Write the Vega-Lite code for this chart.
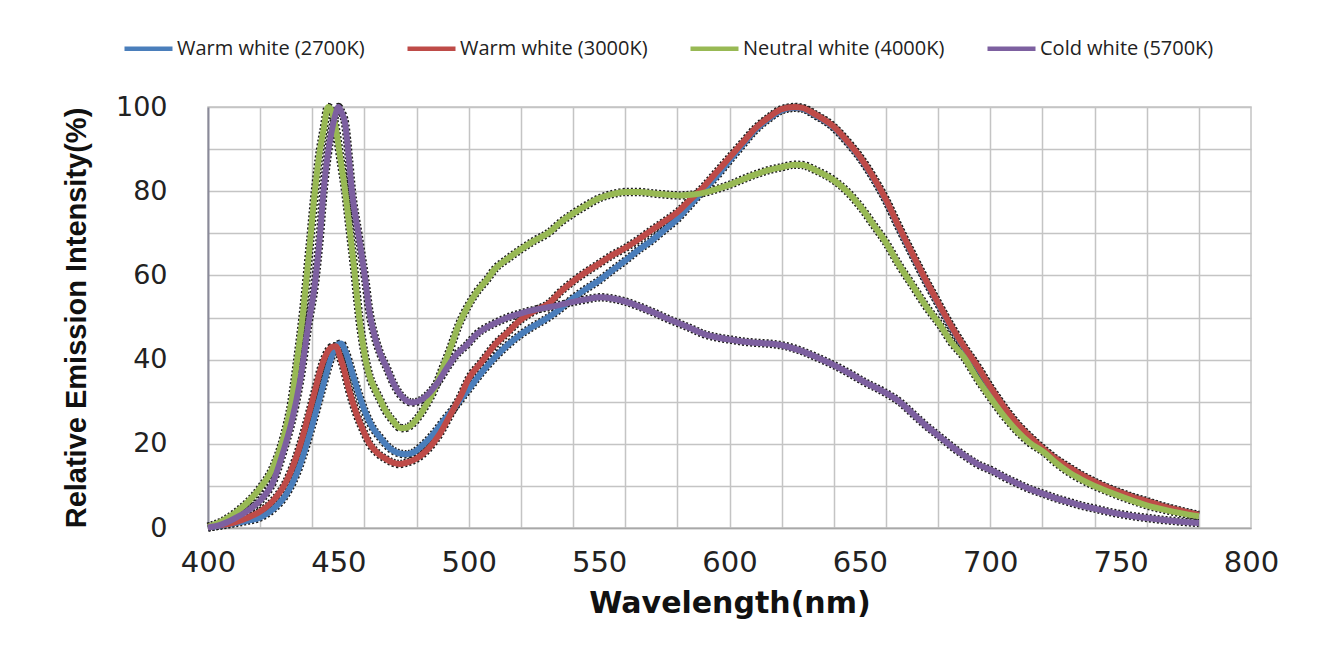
{
  "$schema": "https://vega.github.io/schema/vega-lite/v6.json",
  "width": 1043,
  "height": 421,
  "autosize": {"type": "none"},
  "padding": {"left": 208, "top": 107, "right": 73, "bottom": 126},
  "background": "white",
  "config": {
    "view": {"stroke": "#c4c4c4", "strokeWidth": 1.5},
    "legend": {
      "orient": "none", "legendX": -86, "legendY": -85, "direction": "horizontal", "columns": 4,
      "symbolType": "stroke", "symbolSize": 2304, "symbolStrokeWidth": 4.5,
      "labelFont": "Open Sans", "labelFontSize": 20, "labelColor": "#222", "labelOffset": 2,
      "columnPadding": 33, "padding": 0, "labelLimit": 400
    }
  },
  "datasets": {
    "spectra": [
      {"series": "Warm white (2700K)", "wl": 400, "val": 0.2}, {"series": "Warm white (2700K)", "wl": 405, "val": 0.6}, {"series": "Warm white (2700K)", "wl": 410, "val": 1.1}, {"series": "Warm white (2700K)", "wl": 415, "val": 1.7}, {"series": "Warm white (2700K)", "wl": 420, "val": 2.5}, {"series": "Warm white (2700K)", "wl": 425, "val": 4.5}, {"series": "Warm white (2700K)", "wl": 430, "val": 8}, {"series": "Warm white (2700K)", "wl": 435, "val": 14.5}, {"series": "Warm white (2700K)", "wl": 440, "val": 24.5}, {"series": "Warm white (2700K)", "wl": 444, "val": 33.5}, {"series": "Warm white (2700K)", "wl": 447, "val": 40}, {"series": "Warm white (2700K)", "wl": 449, "val": 43}, {"series": "Warm white (2700K)", "wl": 451, "val": 43.8}, {"series": "Warm white (2700K)", "wl": 453, "val": 41.5}, {"series": "Warm white (2700K)", "wl": 455, "val": 37.5}, {"series": "Warm white (2700K)", "wl": 457.5, "val": 32.5}, {"series": "Warm white (2700K)", "wl": 460, "val": 28}, {"series": "Warm white (2700K)", "wl": 463, "val": 24}, {"series": "Warm white (2700K)", "wl": 466, "val": 21.5}, {"series": "Warm white (2700K)", "wl": 470, "val": 18.8}, {"series": "Warm white (2700K)", "wl": 473, "val": 17.8}, {"series": "Warm white (2700K)", "wl": 476, "val": 17.5}, {"series": "Warm white (2700K)", "wl": 479, "val": 18}, {"series": "Warm white (2700K)", "wl": 482, "val": 19.5}, {"series": "Warm white (2700K)", "wl": 486, "val": 22}, {"series": "Warm white (2700K)", "wl": 490, "val": 25.2}, {"series": "Warm white (2700K)", "wl": 495, "val": 29}, {"series": "Warm white (2700K)", "wl": 500, "val": 33}, {"series": "Warm white (2700K)", "wl": 505, "val": 37}, {"series": "Warm white (2700K)", "wl": 510, "val": 40.5}, {"series": "Warm white (2700K)", "wl": 515, "val": 43.5}, {"series": "Warm white (2700K)", "wl": 520, "val": 46}, {"series": "Warm white (2700K)", "wl": 525, "val": 48}, {"series": "Warm white (2700K)", "wl": 530, "val": 49.8}, {"series": "Warm white (2700K)", "wl": 535, "val": 52}, {"series": "Warm white (2700K)", "wl": 540, "val": 54.6}, {"series": "Warm white (2700K)", "wl": 545, "val": 56.8}, {"series": "Warm white (2700K)", "wl": 550, "val": 58.8}, {"series": "Warm white (2700K)", "wl": 555, "val": 61.2}, {"series": "Warm white (2700K)", "wl": 560, "val": 63.5}, {"series": "Warm white (2700K)", "wl": 565, "val": 66}, {"series": "Warm white (2700K)", "wl": 570, "val": 68.2}, {"series": "Warm white (2700K)", "wl": 575, "val": 70.8}, {"series": "Warm white (2700K)", "wl": 580, "val": 73.4}, {"series": "Warm white (2700K)", "wl": 585, "val": 76.8}, {"series": "Warm white (2700K)", "wl": 590, "val": 80.2}, {"series": "Warm white (2700K)", "wl": 595, "val": 83.5}, {"series": "Warm white (2700K)", "wl": 600, "val": 87.3}, {"series": "Warm white (2700K)", "wl": 605, "val": 91}, {"series": "Warm white (2700K)", "wl": 610, "val": 94.6}, {"series": "Warm white (2700K)", "wl": 615, "val": 97.2}, {"series": "Warm white (2700K)", "wl": 620, "val": 99.2}, {"series": "Warm white (2700K)", "wl": 625, "val": 99.8}, {"series": "Warm white (2700K)", "wl": 628, "val": 99.6}, {"series": "Warm white (2700K)", "wl": 633, "val": 98}, {"series": "Warm white (2700K)", "wl": 640, "val": 95.1}, {"series": "Warm white (2700K)", "wl": 645, "val": 91.8}, {"series": "Warm white (2700K)", "wl": 650, "val": 88}, {"series": "Warm white (2700K)", "wl": 655, "val": 83.3}, {"series": "Warm white (2700K)", "wl": 660, "val": 77.8}, {"series": "Warm white (2700K)", "wl": 665, "val": 71.3}, {"series": "Warm white (2700K)", "wl": 670, "val": 65.1}, {"series": "Warm white (2700K)", "wl": 675, "val": 59}, {"series": "Warm white (2700K)", "wl": 680, "val": 53.3}, {"series": "Warm white (2700K)", "wl": 685, "val": 47.8}, {"series": "Warm white (2700K)", "wl": 690, "val": 42.8}, {"series": "Warm white (2700K)", "wl": 695, "val": 38.3}, {"series": "Warm white (2700K)", "wl": 700, "val": 33.3}, {"series": "Warm white (2700K)", "wl": 705, "val": 28.8}, {"series": "Warm white (2700K)", "wl": 710, "val": 24.8}, {"series": "Warm white (2700K)", "wl": 715, "val": 21.6}, {"series": "Warm white (2700K)", "wl": 720, "val": 18.8}, {"series": "Warm white (2700K)", "wl": 725, "val": 16.3}, {"series": "Warm white (2700K)", "wl": 730, "val": 14.3}, {"series": "Warm white (2700K)", "wl": 735, "val": 12.4}, {"series": "Warm white (2700K)", "wl": 740, "val": 10.8}, {"series": "Warm white (2700K)", "wl": 745, "val": 9.4}, {"series": "Warm white (2700K)", "wl": 750, "val": 8.2}, {"series": "Warm white (2700K)", "wl": 755, "val": 7.1}, {"series": "Warm white (2700K)", "wl": 760, "val": 6.2}, {"series": "Warm white (2700K)", "wl": 765, "val": 5.2}, {"series": "Warm white (2700K)", "wl": 770, "val": 4.4}, {"series": "Warm white (2700K)", "wl": 775, "val": 3.6}, {"series": "Warm white (2700K)", "wl": 780, "val": 2.9},

      {"series": "Warm white (3000K)", "wl": 400, "val": 0.3}, {"series": "Warm white (3000K)", "wl": 405, "val": 0.7}, {"series": "Warm white (3000K)", "wl": 410, "val": 1.3}, {"series": "Warm white (3000K)", "wl": 415, "val": 2.4}, {"series": "Warm white (3000K)", "wl": 420, "val": 3.9}, {"series": "Warm white (3000K)", "wl": 425, "val": 6.5}, {"series": "Warm white (3000K)", "wl": 430, "val": 11}, {"series": "Warm white (3000K)", "wl": 435, "val": 19}, {"series": "Warm white (3000K)", "wl": 438, "val": 25.5}, {"series": "Warm white (3000K)", "wl": 441, "val": 32.5}, {"series": "Warm white (3000K)", "wl": 443, "val": 37.3}, {"series": "Warm white (3000K)", "wl": 445, "val": 40.8}, {"series": "Warm white (3000K)", "wl": 447.5, "val": 43}, {"series": "Warm white (3000K)", "wl": 449, "val": 43.2}, {"series": "Warm white (3000K)", "wl": 451, "val": 40}, {"series": "Warm white (3000K)", "wl": 452, "val": 38}, {"series": "Warm white (3000K)", "wl": 454, "val": 33}, {"series": "Warm white (3000K)", "wl": 457, "val": 27}, {"series": "Warm white (3000K)", "wl": 460, "val": 22.5}, {"series": "Warm white (3000K)", "wl": 462, "val": 20}, {"series": "Warm white (3000K)", "wl": 465, "val": 17.8}, {"series": "Warm white (3000K)", "wl": 468.5, "val": 16.3}, {"series": "Warm white (3000K)", "wl": 471, "val": 15.5}, {"series": "Warm white (3000K)", "wl": 473.5, "val": 15.2}, {"series": "Warm white (3000K)", "wl": 476, "val": 15.5}, {"series": "Warm white (3000K)", "wl": 480, "val": 16.5}, {"series": "Warm white (3000K)", "wl": 484, "val": 18.5}, {"series": "Warm white (3000K)", "wl": 489, "val": 22.5}, {"series": "Warm white (3000K)", "wl": 493, "val": 27}, {"series": "Warm white (3000K)", "wl": 497, "val": 31.5}, {"series": "Warm white (3000K)", "wl": 500, "val": 35.5}, {"series": "Warm white (3000K)", "wl": 505, "val": 39.5}, {"series": "Warm white (3000K)", "wl": 510, "val": 43.5}, {"series": "Warm white (3000K)", "wl": 515, "val": 46.5}, {"series": "Warm white (3000K)", "wl": 520, "val": 49.5}, {"series": "Warm white (3000K)", "wl": 525, "val": 51.5}, {"series": "Warm white (3000K)", "wl": 531, "val": 53.5}, {"series": "Warm white (3000K)", "wl": 535, "val": 56}, {"series": "Warm white (3000K)", "wl": 540, "val": 58.6}, {"series": "Warm white (3000K)", "wl": 545, "val": 60.8}, {"series": "Warm white (3000K)", "wl": 550, "val": 62.8}, {"series": "Warm white (3000K)", "wl": 555, "val": 64.8}, {"series": "Warm white (3000K)", "wl": 560, "val": 66.5}, {"series": "Warm white (3000K)", "wl": 565, "val": 68.5}, {"series": "Warm white (3000K)", "wl": 570, "val": 70.7}, {"series": "Warm white (3000K)", "wl": 575, "val": 72.8}, {"series": "Warm white (3000K)", "wl": 580, "val": 75}, {"series": "Warm white (3000K)", "wl": 585, "val": 78}, {"series": "Warm white (3000K)", "wl": 590, "val": 81}, {"series": "Warm white (3000K)", "wl": 595, "val": 84.5}, {"series": "Warm white (3000K)", "wl": 600, "val": 88}, {"series": "Warm white (3000K)", "wl": 605, "val": 91.5}, {"series": "Warm white (3000K)", "wl": 610, "val": 95}, {"series": "Warm white (3000K)", "wl": 615, "val": 97.5}, {"series": "Warm white (3000K)", "wl": 620, "val": 99.5}, {"series": "Warm white (3000K)", "wl": 625, "val": 100}, {"series": "Warm white (3000K)", "wl": 628, "val": 99.8}, {"series": "Warm white (3000K)", "wl": 633, "val": 98.2}, {"series": "Warm white (3000K)", "wl": 640, "val": 95.3}, {"series": "Warm white (3000K)", "wl": 645, "val": 92}, {"series": "Warm white (3000K)", "wl": 650, "val": 88.2}, {"series": "Warm white (3000K)", "wl": 655, "val": 83.5}, {"series": "Warm white (3000K)", "wl": 660, "val": 78}, {"series": "Warm white (3000K)", "wl": 665, "val": 71.5}, {"series": "Warm white (3000K)", "wl": 670, "val": 65.3}, {"series": "Warm white (3000K)", "wl": 675, "val": 59.2}, {"series": "Warm white (3000K)", "wl": 680, "val": 53.5}, {"series": "Warm white (3000K)", "wl": 685, "val": 48}, {"series": "Warm white (3000K)", "wl": 690, "val": 43}, {"series": "Warm white (3000K)", "wl": 695, "val": 38.5}, {"series": "Warm white (3000K)", "wl": 700, "val": 33.5}, {"series": "Warm white (3000K)", "wl": 705, "val": 29}, {"series": "Warm white (3000K)", "wl": 710, "val": 25}, {"series": "Warm white (3000K)", "wl": 715, "val": 21.8}, {"series": "Warm white (3000K)", "wl": 720, "val": 19}, {"series": "Warm white (3000K)", "wl": 725, "val": 16.5}, {"series": "Warm white (3000K)", "wl": 730, "val": 14.5}, {"series": "Warm white (3000K)", "wl": 735, "val": 12.6}, {"series": "Warm white (3000K)", "wl": 740, "val": 11}, {"series": "Warm white (3000K)", "wl": 745, "val": 9.6}, {"series": "Warm white (3000K)", "wl": 750, "val": 8.4}, {"series": "Warm white (3000K)", "wl": 755, "val": 7.3}, {"series": "Warm white (3000K)", "wl": 760, "val": 6.4}, {"series": "Warm white (3000K)", "wl": 765, "val": 5.4}, {"series": "Warm white (3000K)", "wl": 770, "val": 4.6}, {"series": "Warm white (3000K)", "wl": 775, "val": 3.8}, {"series": "Warm white (3000K)", "wl": 780, "val": 3.1},

      {"series": "Neutral white (4000K)", "wl": 400, "val": 0.3}, {"series": "Neutral white (4000K)", "wl": 405, "val": 1.5}, {"series": "Neutral white (4000K)", "wl": 410, "val": 3.4}, {"series": "Neutral white (4000K)", "wl": 415, "val": 6}, {"series": "Neutral white (4000K)", "wl": 420, "val": 9.5}, {"series": "Neutral white (4000K)", "wl": 425, "val": 14.5}, {"series": "Neutral white (4000K)", "wl": 429, "val": 21.6}, {"series": "Neutral white (4000K)", "wl": 432, "val": 30}, {"series": "Neutral white (4000K)", "wl": 434, "val": 38.9}, {"series": "Neutral white (4000K)", "wl": 436.6, "val": 52}, {"series": "Neutral white (4000K)", "wl": 439, "val": 67}, {"series": "Neutral white (4000K)", "wl": 441, "val": 80}, {"series": "Neutral white (4000K)", "wl": 443, "val": 90}, {"series": "Neutral white (4000K)", "wl": 444.3, "val": 94.5}, {"series": "Neutral white (4000K)", "wl": 446, "val": 100}, {"series": "Neutral white (4000K)", "wl": 447.5, "val": 99}, {"series": "Neutral white (4000K)", "wl": 449, "val": 95}, {"series": "Neutral white (4000K)", "wl": 450.7, "val": 88}, {"series": "Neutral white (4000K)", "wl": 452.6, "val": 80}, {"series": "Neutral white (4000K)", "wl": 454.5, "val": 70}, {"series": "Neutral white (4000K)", "wl": 456, "val": 62}, {"series": "Neutral white (4000K)", "wl": 458, "val": 50}, {"series": "Neutral white (4000K)", "wl": 460, "val": 41.5}, {"series": "Neutral white (4000K)", "wl": 462, "val": 36}, {"series": "Neutral white (4000K)", "wl": 464, "val": 33}, {"series": "Neutral white (4000K)", "wl": 466, "val": 30.5}, {"series": "Neutral white (4000K)", "wl": 468, "val": 28}, {"series": "Neutral white (4000K)", "wl": 471, "val": 25.4}, {"series": "Neutral white (4000K)", "wl": 474, "val": 23.7}, {"series": "Neutral white (4000K)", "wl": 476, "val": 23.8}, {"series": "Neutral white (4000K)", "wl": 478, "val": 24.5}, {"series": "Neutral white (4000K)", "wl": 480, "val": 25.8}, {"series": "Neutral white (4000K)", "wl": 483, "val": 28.5}, {"series": "Neutral white (4000K)", "wl": 486.5, "val": 32.5}, {"series": "Neutral white (4000K)", "wl": 490, "val": 38}, {"series": "Neutral white (4000K)", "wl": 493, "val": 42.8}, {"series": "Neutral white (4000K)", "wl": 496, "val": 48}, {"series": "Neutral white (4000K)", "wl": 499.5, "val": 52.5}, {"series": "Neutral white (4000K)", "wl": 503, "val": 56}, {"series": "Neutral white (4000K)", "wl": 507, "val": 59}, {"series": "Neutral white (4000K)", "wl": 510, "val": 61.5}, {"series": "Neutral white (4000K)", "wl": 515, "val": 64}, {"series": "Neutral white (4000K)", "wl": 520, "val": 66.2}, {"series": "Neutral white (4000K)", "wl": 525, "val": 68.2}, {"series": "Neutral white (4000K)", "wl": 531, "val": 70.3}, {"series": "Neutral white (4000K)", "wl": 535, "val": 72.5}, {"series": "Neutral white (4000K)", "wl": 540, "val": 74.7}, {"series": "Neutral white (4000K)", "wl": 545, "val": 76.6}, {"series": "Neutral white (4000K)", "wl": 550, "val": 78.3}, {"series": "Neutral white (4000K)", "wl": 555, "val": 79.3}, {"series": "Neutral white (4000K)", "wl": 560, "val": 79.8}, {"series": "Neutral white (4000K)", "wl": 565, "val": 79.8}, {"series": "Neutral white (4000K)", "wl": 572, "val": 79.4}, {"series": "Neutral white (4000K)", "wl": 581, "val": 79}, {"series": "Neutral white (4000K)", "wl": 586, "val": 79.2}, {"series": "Neutral white (4000K)", "wl": 590, "val": 79.6}, {"series": "Neutral white (4000K)", "wl": 595, "val": 80.5}, {"series": "Neutral white (4000K)", "wl": 600, "val": 81.5}, {"series": "Neutral white (4000K)", "wl": 605, "val": 82.8}, {"series": "Neutral white (4000K)", "wl": 610, "val": 84}, {"series": "Neutral white (4000K)", "wl": 615, "val": 85}, {"series": "Neutral white (4000K)", "wl": 620, "val": 85.7}, {"series": "Neutral white (4000K)", "wl": 625, "val": 86.3}, {"series": "Neutral white (4000K)", "wl": 628, "val": 86.2}, {"series": "Neutral white (4000K)", "wl": 633, "val": 85}, {"series": "Neutral white (4000K)", "wl": 640, "val": 82.6}, {"series": "Neutral white (4000K)", "wl": 645, "val": 80}, {"series": "Neutral white (4000K)", "wl": 650, "val": 76.5}, {"series": "Neutral white (4000K)", "wl": 655, "val": 72.2}, {"series": "Neutral white (4000K)", "wl": 660, "val": 67.8}, {"series": "Neutral white (4000K)", "wl": 665, "val": 62.5}, {"series": "Neutral white (4000K)", "wl": 670, "val": 57.8}, {"series": "Neutral white (4000K)", "wl": 675, "val": 53}, {"series": "Neutral white (4000K)", "wl": 681, "val": 48}, {"series": "Neutral white (4000K)", "wl": 685, "val": 44.2}, {"series": "Neutral white (4000K)", "wl": 690, "val": 40.5}, {"series": "Neutral white (4000K)", "wl": 695, "val": 35.5}, {"series": "Neutral white (4000K)", "wl": 700, "val": 31}, {"series": "Neutral white (4000K)", "wl": 705, "val": 26.8}, {"series": "Neutral white (4000K)", "wl": 710, "val": 23.2}, {"series": "Neutral white (4000K)", "wl": 715, "val": 20.3}, {"series": "Neutral white (4000K)", "wl": 721, "val": 17.8}, {"series": "Neutral white (4000K)", "wl": 725, "val": 15.6}, {"series": "Neutral white (4000K)", "wl": 730, "val": 13.3}, {"series": "Neutral white (4000K)", "wl": 735, "val": 11.5}, {"series": "Neutral white (4000K)", "wl": 740, "val": 10}, {"series": "Neutral white (4000K)", "wl": 745, "val": 8.7}, {"series": "Neutral white (4000K)", "wl": 750, "val": 7.5}, {"series": "Neutral white (4000K)", "wl": 755, "val": 6.4}, {"series": "Neutral white (4000K)", "wl": 760, "val": 5.4}, {"series": "Neutral white (4000K)", "wl": 765, "val": 4.6}, {"series": "Neutral white (4000K)", "wl": 770, "val": 3.9}, {"series": "Neutral white (4000K)", "wl": 775, "val": 3.3}, {"series": "Neutral white (4000K)", "wl": 780, "val": 2.8},

      {"series": "Cold white (5700K)", "wl": 400, "val": 0.1}, {"series": "Cold white (5700K)", "wl": 405, "val": 0.8}, {"series": "Cold white (5700K)", "wl": 410, "val": 2.2}, {"series": "Cold white (5700K)", "wl": 415, "val": 4}, {"series": "Cold white (5700K)", "wl": 420, "val": 6.5}, {"series": "Cold white (5700K)", "wl": 425, "val": 11}, {"series": "Cold white (5700K)", "wl": 429, "val": 18.4}, {"series": "Cold white (5700K)", "wl": 432, "val": 25}, {"series": "Cold white (5700K)", "wl": 435.3, "val": 34.9}, {"series": "Cold white (5700K)", "wl": 438.5, "val": 48.4}, {"series": "Cold white (5700K)", "wl": 441, "val": 58}, {"series": "Cold white (5700K)", "wl": 443, "val": 70}, {"series": "Cold white (5700K)", "wl": 444.3, "val": 80}, {"series": "Cold white (5700K)", "wl": 446, "val": 89}, {"series": "Cold white (5700K)", "wl": 447.5, "val": 94.5}, {"series": "Cold white (5700K)", "wl": 449, "val": 98.5}, {"series": "Cold white (5700K)", "wl": 450, "val": 100}, {"series": "Cold white (5700K)", "wl": 451, "val": 99}, {"series": "Cold white (5700K)", "wl": 452.6, "val": 96}, {"series": "Cold white (5700K)", "wl": 454, "val": 88}, {"series": "Cold white (5700K)", "wl": 455.2, "val": 80}, {"series": "Cold white (5700K)", "wl": 457.7, "val": 69.8}, {"series": "Cold white (5700K)", "wl": 460.3, "val": 59}, {"series": "Cold white (5700K)", "wl": 462, "val": 51}, {"series": "Cold white (5700K)", "wl": 463.4, "val": 46.8}, {"series": "Cold white (5700K)", "wl": 466, "val": 41.5}, {"series": "Cold white (5700K)", "wl": 468.6, "val": 38}, {"series": "Cold white (5700K)", "wl": 471, "val": 34.5}, {"series": "Cold white (5700K)", "wl": 473.7, "val": 31.7}, {"series": "Cold white (5700K)", "wl": 476, "val": 30.3}, {"series": "Cold white (5700K)", "wl": 478.3, "val": 29.8}, {"series": "Cold white (5700K)", "wl": 481, "val": 30.2}, {"series": "Cold white (5700K)", "wl": 484, "val": 31.5}, {"series": "Cold white (5700K)", "wl": 488, "val": 34.5}, {"series": "Cold white (5700K)", "wl": 491.6, "val": 38}, {"series": "Cold white (5700K)", "wl": 495, "val": 41}, {"series": "Cold white (5700K)", "wl": 499.3, "val": 43.5}, {"series": "Cold white (5700K)", "wl": 503, "val": 46}, {"series": "Cold white (5700K)", "wl": 509.5, "val": 48.5}, {"series": "Cold white (5700K)", "wl": 515, "val": 50}, {"series": "Cold white (5700K)", "wl": 520, "val": 51}, {"series": "Cold white (5700K)", "wl": 525, "val": 51.8}, {"series": "Cold white (5700K)", "wl": 531, "val": 52.5}, {"series": "Cold white (5700K)", "wl": 535, "val": 53}, {"series": "Cold white (5700K)", "wl": 540, "val": 53.7}, {"series": "Cold white (5700K)", "wl": 545, "val": 54.3}, {"series": "Cold white (5700K)", "wl": 550.5, "val": 54.8}, {"series": "Cold white (5700K)", "wl": 555, "val": 54.5}, {"series": "Cold white (5700K)", "wl": 560, "val": 53.8}, {"series": "Cold white (5700K)", "wl": 565, "val": 52.7}, {"series": "Cold white (5700K)", "wl": 572, "val": 50.9}, {"series": "Cold white (5700K)", "wl": 577, "val": 49.5}, {"series": "Cold white (5700K)", "wl": 581, "val": 48.5}, {"series": "Cold white (5700K)", "wl": 586, "val": 47.2}, {"series": "Cold white (5700K)", "wl": 590, "val": 46.1}, {"series": "Cold white (5700K)", "wl": 595, "val": 45.3}, {"series": "Cold white (5700K)", "wl": 600.8, "val": 44.7}, {"series": "Cold white (5700K)", "wl": 605, "val": 44.3}, {"series": "Cold white (5700K)", "wl": 610, "val": 44}, {"series": "Cold white (5700K)", "wl": 615, "val": 43.8}, {"series": "Cold white (5700K)", "wl": 620.8, "val": 43.3}, {"series": "Cold white (5700K)", "wl": 627, "val": 42.2}, {"series": "Cold white (5700K)", "wl": 633.6, "val": 40.5}, {"series": "Cold white (5700K)", "wl": 640, "val": 38.7}, {"series": "Cold white (5700K)", "wl": 646.4, "val": 36.6}, {"series": "Cold white (5700K)", "wl": 652, "val": 34.6}, {"series": "Cold white (5700K)", "wl": 659, "val": 32.4}, {"series": "Cold white (5700K)", "wl": 665.6, "val": 29.8}, {"series": "Cold white (5700K)", "wl": 670, "val": 27.3}, {"series": "Cold white (5700K)", "wl": 675, "val": 24.5}, {"series": "Cold white (5700K)", "wl": 681, "val": 21.5}, {"series": "Cold white (5700K)", "wl": 686, "val": 19}, {"series": "Cold white (5700K)", "wl": 691, "val": 16.8}, {"series": "Cold white (5700K)", "wl": 695, "val": 15.2}, {"series": "Cold white (5700K)", "wl": 700.8, "val": 13.6}, {"series": "Cold white (5700K)", "wl": 705, "val": 12.2}, {"series": "Cold white (5700K)", "wl": 710, "val": 10.7}, {"series": "Cold white (5700K)", "wl": 715, "val": 9.3}, {"series": "Cold white (5700K)", "wl": 721, "val": 8}, {"series": "Cold white (5700K)", "wl": 725, "val": 7.1}, {"series": "Cold white (5700K)", "wl": 730, "val": 6.2}, {"series": "Cold white (5700K)", "wl": 735, "val": 5.3}, {"series": "Cold white (5700K)", "wl": 740.9, "val": 4.5}, {"series": "Cold white (5700K)", "wl": 745, "val": 3.9}, {"series": "Cold white (5700K)", "wl": 750, "val": 3.3}, {"series": "Cold white (5700K)", "wl": 755, "val": 2.8}, {"series": "Cold white (5700K)", "wl": 761, "val": 2.3}, {"series": "Cold white (5700K)", "wl": 765, "val": 2}, {"series": "Cold white (5700K)", "wl": 770, "val": 1.7}, {"series": "Cold white (5700K)", "wl": 775, "val": 1.4}, {"series": "Cold white (5700K)", "wl": 780, "val": 1.2}
    ]
  },
  "data": {"name": "spectra"},
  "resolve": {"axis": {"x": "independent", "y": "independent"}},
  "layer": [
    {
      "mark": {"type": "line", "interpolate": "monotone", "stroke": "#1c1c1c", "strokeWidth": 8.5, "strokeDash": [2, 2]},
      "encoding": {
        "x": {"field": "wl", "type": "quantitative", "scale": {"domain": [400, 800], "nice": false},
          "axis": {"orient": "bottom", "values": [420, 440, 460, 480, 500, 520, 540, 560, 580, 600, 620, 640, 660, 680, 700, 720, 740, 760, 780],
            "grid": true, "gridColor": "#c4c4c4", "gridWidth": 1.5, "gridOpacity": 1, "labels": false, "ticks": false, "domain": false, "title": null}},
        "y": {"field": "val", "type": "quantitative", "scale": {"domain": [0, 100], "nice": false},
          "axis": {"values": [0, 10, 20, 30, 40, 50, 60, 70, 80, 90, 100], "labelExpr": "datum.value % 20 === 0 ? datum.label : ''",
            "grid": true, "gridColor": "#c4c4c4", "gridWidth": 1.5, "gridOpacity": 1, "ticks": false, "tickSize": 0,
            "domain": true, "domainColor": "#8a8a9a", "domainWidth": 2, "labelFlush": false,
            "labelFont": "DejaVu Sans", "labelFontSize": 27, "labelColor": "#222", "labelPadding": 41,
            "title": "Relative Emission Intensity(%)", "titleFont": "Liberation Sans", "titleFontSize": 29, "titleFontWeight": "bold", "titleColor": "#111", "titlePadding": 24}},
        "detail": {"field": "series", "type": "nominal"}
      }
    },
    {
      "mark": {"type": "line", "interpolate": "monotone", "strokeWidth": 6},
      "encoding": {
        "x": {"field": "wl", "type": "quantitative",
          "axis": {"orient": "bottom", "values": [400, 450, 500, 550, 600, 650, 700, 750, 800], "grid": false, "ticks": false, "tickSize": 0,
            "domain": true, "domainColor": "#a8a8a8", "domainWidth": 1.5, "labelFlush": false,
            "labelFont": "DejaVu Sans", "labelFontSize": 29, "labelColor": "#222", "labelPadding": 20,
            "title": "Wavelength(nm)", "titleFont": "DejaVu Sans", "titleFontSize": 30, "titleFontWeight": "bold", "titleColor": "#111", "titlePadding": 11}},
        "y": {"field": "val", "type": "quantitative", "axis": null},
        "color": {"field": "series", "type": "nominal", "title": null,
          "scale": {"domain": ["Warm white (2700K)", "Warm white (3000K)", "Neutral white (4000K)", "Cold white (5700K)"],
                    "range": ["#4A7EBB", "#BE4B48", "#98B954", "#7D60A0"]}}
      }
    }
  ]
}
